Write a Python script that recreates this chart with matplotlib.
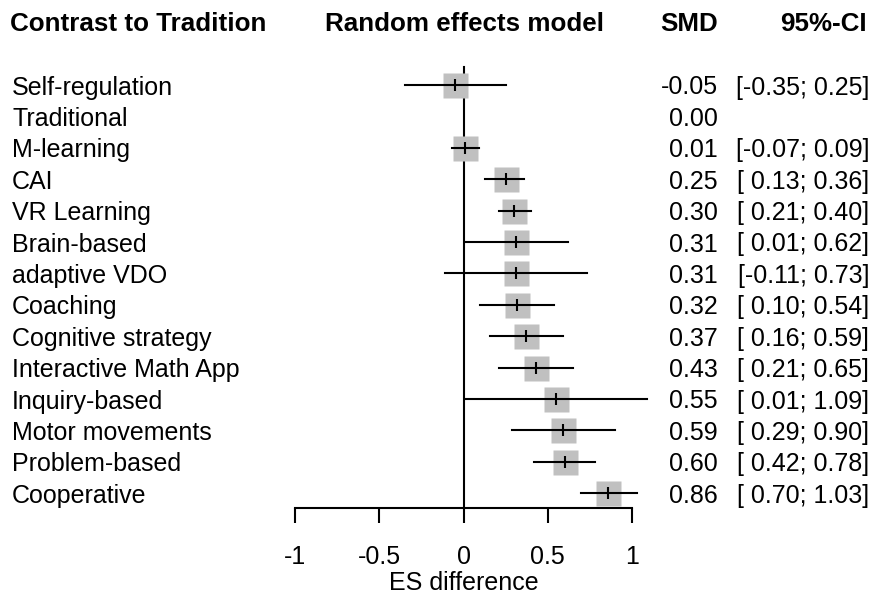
import numpy as np
import matplotlib
matplotlib.use("Agg")
import matplotlib.pyplot as plt
import matplotlib.transforms as mtransforms

# data
labels = ["Self-regulation", "Traditional", "M-learning", "CAI", "VR Learning",
          "Brain-based", "adaptive VDO", "Coaching", "Cognitive strategy",
          "Interactive Math App", "Inquiry-based", "Motor movements",
          "Problem-based", "Cooperative"]
smd = [-0.05, 0.00, 0.01, 0.25, 0.30, 0.31, 0.31, 0.32, 0.37, 0.43, 0.55, 0.59, 0.60, 0.86]
ci_low = [-0.35, None, -0.07, 0.13, 0.21, 0.01, -0.11, 0.10, 0.16, 0.21, 0.01, 0.29, 0.42, 0.70]
ci_high = [0.25, None, 0.09, 0.36, 0.40, 0.62, 0.73, 0.54, 0.59, 0.65, 1.09, 0.90, 0.78, 1.03]
xticks = [-1, -0.5, 0, 0.5, 1]

W, H = 871, 598
fig = plt.figure(figsize=(W / 100, H / 100), dpi=100)
ax = fig.add_axes([0, 0, 1, 1])

# pixel layout: x=0 at 463.5 px, 168.5 px per unit; first row at 85 px, 31.4 px per row
x0, xs = 463.5, 168.5
y0, ys = 85, 31.4
ax.set_xlim(-x0 / xs, (W - x0) / xs)
ax.set_ylim((H - y0) / ys, -y0 / ys)

rows = np.arange(len(labels))
axis_row = (508 - y0) / ys

font = ["Liberation Sans", "DejaVu Sans"]
fs = 18

# reference line at zero
ax.plot([0, 0], [(67 - y0) / ys, axis_row], color="black", lw=1.5, zorder=1)

for i in rows:
    if ci_low[i] is None:
        continue
    ax.plot(smd[i], i, "s", ms=18, color="#c0c0c0", mec="none", zorder=2)
    ax.plot([ci_low[i], ci_high[i]], [i, i], color="black", lw=1.5, zorder=3)
    ax.plot(smd[i], i, "|", ms=8, mew=1.5, color="black", zorder=4)

# axis
for s in ["top", "left", "right"]:
    ax.spines[s].set_visible(False)
ax.spines["bottom"].set_position(("data", axis_row))
ax.spines["bottom"].set_bounds(-1, 1)
ax.spines["bottom"].set_linewidth(1.5)
ax.set_xticks(xticks)
ax.set_xticklabels(["-1", "-0.5", "0", "0.5", "1"], fontsize=fs, family=font)
ax.tick_params(axis="x", direction="out", length=11, width=1.5, pad=16)
ax.set_yticks([])
ax.patch.set_visible(False)

trans = mtransforms.blended_transform_factory(fig.transFigure, ax.transData)
for i in rows:
    ax.text(12 / W, i, labels[i], transform=trans, ha="left", va="center_baseline",
            fontsize=fs, family=font)
    ax.text(718 / W, i, f"{smd[i]:.2f}", transform=trans, ha="right", va="center_baseline",
            fontsize=fs, family=font)
    if ci_low[i] is not None:
        lo = f"{ci_low[i]:.2f}" if ci_low[i] < 0 else f" {ci_low[i]:.2f}"
        ax.text(869 / W, i, f"[{lo}; {ci_high[i]:.2f}]", transform=trans,
                ha="right", va="center_baseline", fontsize=fs, family=font)

hfs = 18.7
hy = 1 - 24 / H
fig.text(10 / W, hy, "Contrast to Tradition", ha="left", va="center",
         fontsize=hfs, weight="bold", family=font)
fig.text(464 / W, hy, "Random effects model", ha="center", va="center",
         fontsize=hfs, weight="bold", family=font)
fig.text(718 / W, hy, "SMD", ha="right", va="center",
         fontsize=hfs, weight="bold", family=font)
fig.text(867 / W, hy, "95%-CI", ha="right", va="center",
         fontsize=hfs, weight="bold", family=font)
fig.text(463.5 / W, 1 - 583 / H, "ES difference", ha="center", va="center",
         fontsize=fs, family=font)

fig.savefig("out.png", dpi=100, facecolor="white")
